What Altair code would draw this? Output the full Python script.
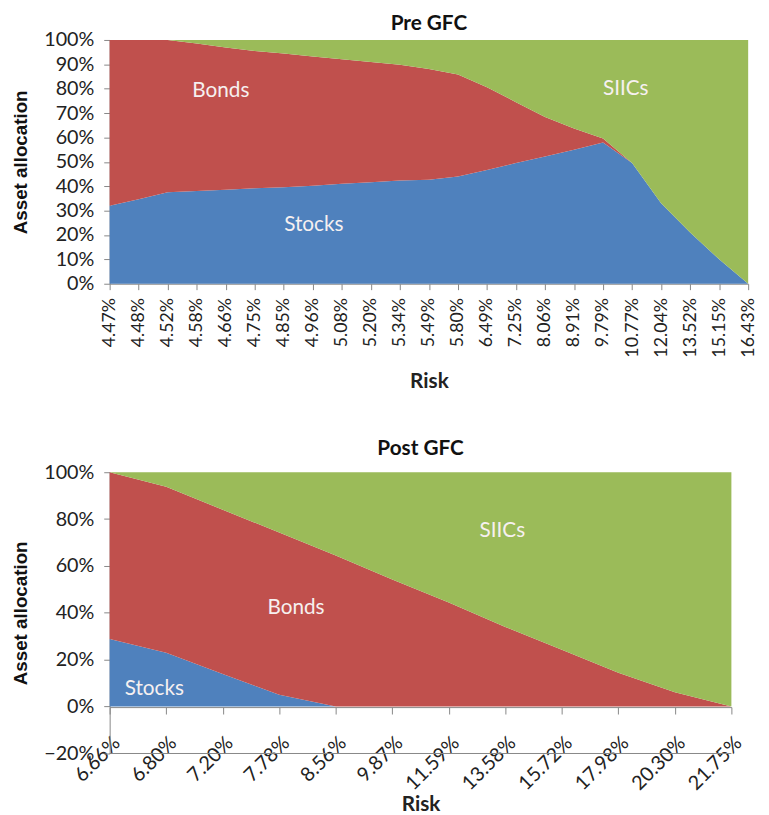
import altair as alt
import pandas as pd

# ---------------- data ----------------
pre_risk = ["4.47%", "4.48%", "4.52%", "4.58%", "4.66%", "4.75%", "4.85%", "4.96%",
            "5.08%", "5.20%", "5.34%", "5.49%", "5.80%", "6.49%", "7.25%", "8.06%",
            "8.91%", "9.79%", "10.77%", "12.04%", "13.52%", "15.15%", "16.43%"]
pre_stocks = [0.320, 0.347, 0.375, 0.380, 0.386, 0.392, 0.396, 0.402, 0.410, 0.416, 0.423, 0.427,
              0.440, 0.467, 0.495, 0.522, 0.550, 0.579, 0.495, 0.330, 0.210, 0.100, 0.000]
pre_bonds = [0.680, 0.653, 0.625, 0.605, 0.583, 0.563, 0.548, 0.530, 0.511, 0.494, 0.475, 0.454,
             0.418, 0.339, 0.250, 0.162, 0.087, 0.017, 0.000, 0.000, 0.000, 0.000, 0.000]
pre_siics = [0.000, 0.000, 0.000, 0.015, 0.031, 0.045, 0.056, 0.068, 0.079, 0.090, 0.102, 0.119,
             0.142, 0.194, 0.255, 0.316, 0.363, 0.404, 0.505, 0.670, 0.790, 0.900, 1.000]

post_risk = ["6.66%", "6.80%", "7.20%", "7.78%", "8.56%", "9.87%", "11.59%", "13.58%",
             "15.72%", "17.98%", "20.30%", "21.75%"]
post_stocks = [0.288, 0.230, 0.139, 0.051, 0.000, 0.000, 0.000, 0.000, 0.000, 0.000, 0.000, 0.000]
post_bonds = [0.712, 0.708, 0.701, 0.692, 0.645, 0.542, 0.444, 0.340, 0.243, 0.145, 0.061, 0.000]
post_siics = [0.000, 0.062, 0.160, 0.257, 0.355, 0.458, 0.556, 0.660, 0.757, 0.855, 0.939, 1.000]

assets = ["Stocks", "Bonds", "SIICs"]
colors = ["#4F81BD", "#C0504D", "#9BBB59"]

pre_yticks = [0.0, 0.1, 0.2, 0.3, 0.4, 0.5, 0.6, 0.7, 0.8, 0.9, 1.0]
post_yticks = [-0.2, 0.0, 0.2, 0.4, 0.6, 0.8, 1.0]

# label placement: (text, category, value, dx)
pre_labels = [("Bonds", "4.66%", 0.79, -5), ("SIICs", "9.79%", 0.80, 23), ("Stocks", "4.96%", 0.24, 1)]
post_labels = [("SIICs", "13.58%", 0.75, -3), ("Bonds", "7.78%", 0.42, 17), ("Stocks", "6.80%", 0.075, -12)]

FONT = "Lato"
AX = "#868686"


def long_df(risk, stocks, bonds, siics):
    rows = []
    for series, name in zip([stocks, bonds, siics], assets):
        for r, v in zip(risk, series):
            rows.append({"risk": r, "asset": name, "value": v, "ord": assets.index(name)})
    return pd.DataFrame(rows)


def panel(title, risk, stocks, bonds, siics, labels, width, height, ydomain, yvalues,
          title_offset, xaxis_kw):
    df = long_df(risk, stocks, bonds, siics)
    xaxis = alt.Axis(title="Risk", labelFont=FONT, labelColor="#222", titleFont=FONT,
                     titleFontSize=21, titleFontWeight="bold", titleColor="#222",
                     domainColor=AX, tickColor=AX, labelOverlap=False, **xaxis_kw)
    xscale = alt.Scale(type="point", padding=0)
    yaxis = alt.Axis(title="Asset allocation", values=yvalues, format=".0%",
                     labelFont=FONT, labelFontSize=20, labelColor="#222", labelOverlap=False,
                     titleFont="Liberation Sans", titleFontSize=19, titleFontWeight="bold",
                     titleColor="#111", domainColor=AX, tickColor=AX, tickSize=6,
                     labelPadding=10, grid=False, titlePadding=13)
    yscale = alt.Scale(domain=ydomain, nice=False)
    area = alt.Chart(df).mark_area(interpolate="linear", opacity=1).encode(
        x=alt.X("risk:O", sort=risk, scale=xscale, axis=xaxis),
        y=alt.Y("value:Q", stack="zero", scale=yscale, axis=yaxis),
        color=alt.Color("asset:N", scale=alt.Scale(domain=assets, range=colors), legend=None),
        order=alt.Order("ord:Q"),
    )
    layers = [area]
    for text, cat, val, dx in labels:
        ldf = pd.DataFrame({"risk": [cat], "value": [val], "label": [text]})
        layers.append(alt.Chart(ldf).mark_text(font=FONT, fontSize=21, color="#F6F0F0", dx=dx).encode(
            x=alt.X("risk:O", sort=risk, scale=xscale, axis=xaxis),
            y=alt.Y("value:Q", scale=yscale, axis=yaxis),
            text="label:N"))
    if ydomain[0] < 0:
        rdf = pd.DataFrame({"value": [ydomain[0]]})
        layers.append(alt.Chart(rdf).mark_rule(color=AX, strokeWidth=1).encode(
            y=alt.Y("value:Q", scale=yscale, axis=yaxis), x=alt.value(0), x2=alt.value(width)))
    return alt.layer(*layers).properties(
        width=width, height=height,
        title=alt.TitleParams(title, font=FONT, fontSize=21, fontWeight="bold", color="#111",
                              anchor="middle", offset=title_offset),
    )


top = panel("Pre GFC", pre_risk, pre_stocks, pre_bonds, pre_siics, pre_labels, 647, 247,
            [0, 1], pre_yticks, -4,
            dict(labelAngle=270, labelFontSize=18, tickSize=6, labelPadding=8, titlePadding=14))
bottom = panel("Post GFC", post_risk, post_stocks, post_bonds, post_siics, post_labels, 630, 285,
               [-0.2, 1], post_yticks, 3,
               dict(labelAngle=315, labelFontSize=20, tickSize=7, labelPadding=26,
                    labelAlign="right", labelBaseline="middle", labelOffset=7,
                    offset=-47, titlePadding=0))

chart = alt.vconcat(top, bottom, spacing=47).configure_view(stroke=None).properties(
    padding={"left": 4, "top": 0, "right": 4, "bottom": 0})

chart.save("out.html", embed_options={"renderer": "svg", "actions": False})
